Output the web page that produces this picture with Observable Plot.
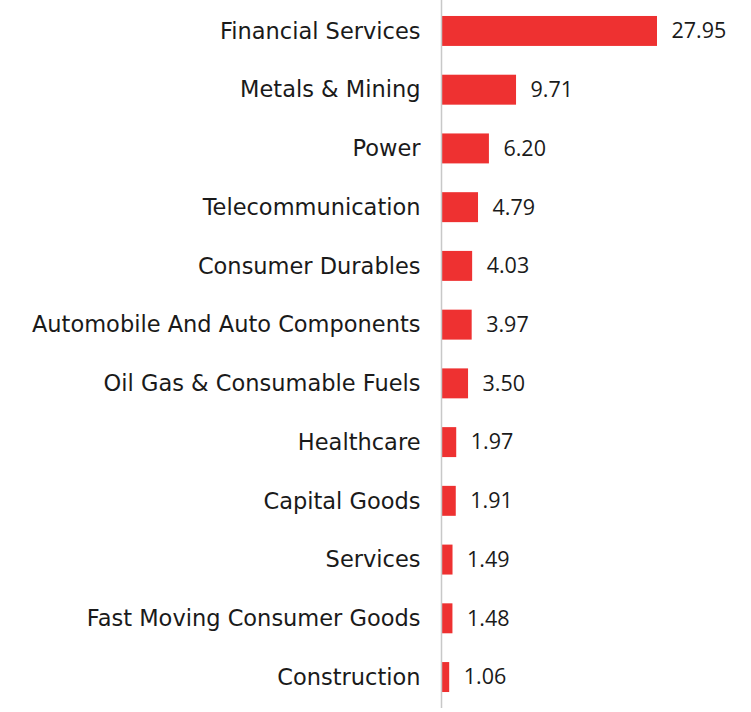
<!DOCTYPE html>
<html>
<head>
<meta charset="utf-8">
<script src="https://cdn.jsdelivr.net/npm/d3@7"></script>
<script src="https://cdn.jsdelivr.net/npm/@observablehq/plot@0.6"></script>
<style>
  html, body { margin: 0; padding: 0; background: #fff; }
</style>
</head>
<body>
<div id="chart"></div>
<script>
const sectors = [
  "Financial Services",
  "Metals & Mining",
  "Power",
  "Telecommunication",
  "Consumer Durables",
  "Automobile And Auto Components",
  "Oil Gas & Consumable Fuels",
  "Healthcare",
  "Capital Goods",
  "Services",
  "Fast Moving Consumer Goods",
  "Construction"
];
const weights = [27.95, 9.71, 6.20, 4.79, 4.03, 3.97, 3.50, 1.97, 1.91, 1.49, 1.48, 1.06];

const data = sectors.map((s, i) => ({sector: s, value: weights[i]}));

const chart = Plot.plot({
  width: 751,
  height: 712,
  marginLeft: 441,
  marginRight: 94,
  marginTop: 0,
  marginBottom: 4,
  style: {fontFamily: "'Open Sans', sans-serif", background: "#fff"},
  x: {domain: [0, 27.95], axis: null},
  y: {domain: sectors, axis: null, paddingInner: 0.49, paddingOuter: 0.272, round: false},
  marks: [
    Plot.barX(data, {x: "value", y: "sector", fill: "#EE3131"}),
    Plot.ruleX([0], {stroke: "#c8c8c8", strokeWidth: 1.5}),
    Plot.text(data, {x: 0, y: "sector", text: "sector", textAnchor: "end", dx: -21, fontSize: 22.5, fontFamily: "'DejaVu Sans', sans-serif", fill: "#1a1a1a"}),
    Plot.text(data, {x: "value", y: "sector", text: d => d.value.toFixed(2), textAnchor: "start", dx: 14, fontSize: 21.5, fill: "#1a1a1a"})
  ]
});
document.getElementById("chart").appendChild(chart);
</script>
</body>
</html>
